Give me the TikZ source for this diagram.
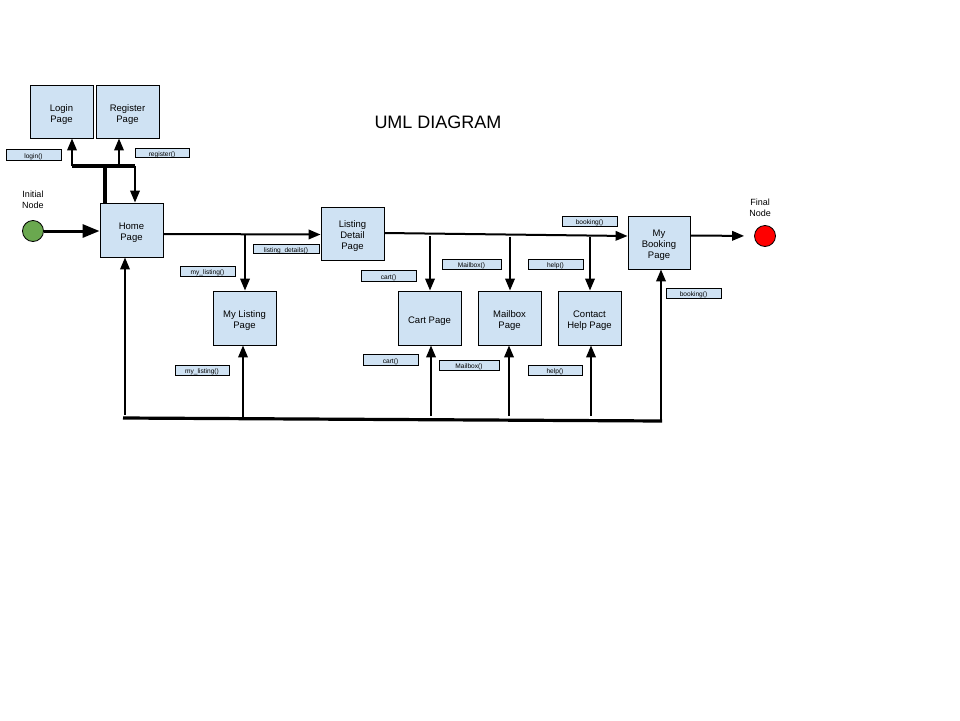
\documentclass[tikz,border=0pt]{standalone}
\usepackage{fontspec}
\setmainfont{Liberation Sans}
\usetikzlibrary{arrows.meta,calc}
\definecolor{boxblue}{HTML}{CFE2F3}
\definecolor{initgreen}{HTML}{6AA84F}
\definecolor{finalred}{HTML}{FF0000}
\tikzset{
  pagebox/.style={draw=black, line width=0.9pt, fill=boxblue, inner sep=0pt},
  boxtext/.style={align=center, inner sep=0pt, yshift=-3pt, font=\fontsize{9.5}{11}\selectfont},
  fnlabel/.style={draw=black, line width=0.8pt, fill=boxblue, inner sep=0pt,
    text height=7pt, text depth=0pt, font=\fontsize{6.6}{7}\selectfont},
  arr/.style={line width=2pt, -{Triangle[length=12pt,width=9.5pt]}},
  bigarr/.style={line width=3pt, -{Triangle[length=17pt,width=13pt]}},
  thickline/.style={line width=3.2pt},
  caption/.style={align=center, font=\fontsize{9}{11}\selectfont}
}
\begin{document}
\begin{tikzpicture}[x=1pt,y=-1pt]
\useasboundingbox[fill=white] (0,0) rectangle (960,720);

% title
\node (title) at (438,122) {\fontsize{18}{20}\selectfont UML DIAGRAM};

% page boxes
\node[pagebox, minimum width=63pt, minimum height=53pt, label={[boxtext]center:Login\\Page}] (login) at (61.5,111.5) {};
\node[pagebox, minimum width=63pt, minimum height=53pt, label={[boxtext]center:Register\\Page}] (register) at (127.5,111.5) {};
\node[pagebox, minimum width=63pt, minimum height=54pt, label={[boxtext]center:Home\\Page}] (home) at (131.5,230) {};
\node[pagebox, minimum width=63pt, minimum height=53pt, label={[boxtext]center:Listing\\Detail\\Page}] (listing) at (352.5,233.5) {};
\node[pagebox, minimum width=63pt, minimum height=54pt, label={[boxtext]center:My Listing\\Page}] (mylisting) at (244.5,318) {};
\node[pagebox, minimum width=63pt, minimum height=54pt, label={[boxtext]center:Cart Page}] (cart) at (429.5,318) {};
\node[pagebox, minimum width=63pt, minimum height=54pt, label={[boxtext]center:Mailbox\\Page}] (mailbox) at (509.5,318) {};
\node[pagebox, minimum width=63pt, minimum height=54pt, label={[boxtext]center:Contact\\Help Page}] (contact) at (589.5,318) {};
\node[pagebox, minimum width=62pt, minimum height=53pt, label={[boxtext]center:My\\Booking\\Page}] (booking) at (659,242.5) {};

% initial / final nodes
\node[draw=black, line width=0.8pt, fill=initgreen, circle, minimum size=21pt, inner sep=0pt] (init) at (33,231) {};
\node[caption] (initcap) at (33,200) {Initial\\Node};
\node[draw=black, line width=0.8pt, fill=finalred, circle, minimum size=21pt, inner sep=0pt] (final) at (765,236) {};
\node[caption] (finalcap) at (760,207.5) {Final\\Node};

% function labels
\node[fnlabel, minimum width=55pt, minimum height=11pt] (llogin) at (33.5,154.5) {login()};
\node[fnlabel, minimum width=54pt, minimum height=9pt] (lregister) at (162,152.5) {register()};
\node[fnlabel, minimum width=66pt, minimum height=9pt] (ldetails) at (286,248.5) {listing\_details()};
\node[fnlabel, minimum width=55pt, minimum height=10pt] (lmylist1) at (207.5,271) {my\_listing()};
\node[fnlabel, minimum width=55pt, minimum height=11pt] (lcart1) at (388.5,275.5) {cart()};
\node[fnlabel, minimum width=59pt, minimum height=10pt] (lmail1) at (471.5,264) {Mailbox()};
\node[fnlabel, minimum width=55pt, minimum height=10pt] (lhelp1) at (555.5,264) {help()};
\node[fnlabel, minimum width=55pt, minimum height=10pt] (lbook1) at (589.5,221) {booking()};
\node[fnlabel, minimum width=55pt, minimum height=10pt] (lbook2) at (693.5,293) {booking()};
\node[fnlabel, minimum width=55pt, minimum height=11pt] (lcart2) at (390.5,359.5) {cart()};
\node[fnlabel, minimum width=60pt, minimum height=10pt] (lmail2) at (469,365) {Mailbox()};
\node[fnlabel, minimum width=54pt, minimum height=10pt] (lhelp2) at (555,370) {help()};
\node[fnlabel, minimum width=54pt, minimum height=10pt] (lmylist2) at (202,370) {my\_listing()};

% initial -> home
\draw[bigarr] (init) -- (home.west |- init);

% top structure: home <-> login / register
\coordinate (tl) at (72,166);
\coordinate (tj) at (105,166);
\coordinate (treg) at (119,166);
\coordinate (tr) at (135,166);
\draw[thickline] (tl) -- (tr);
\draw[thickline] (tj |- home.north) -- (tj);
\draw[arr] (tl) -- (tl |- login.south);
\draw[arr] (treg) -- (treg |- register.south);
\draw[arr] (tr) -- (tr |- home.north);

% home -> listing detail, branch to my listing
\draw[arr] ($(home.east)+(0,4)$) -- ($(listing.west)+(0,1)$);
\coordinate (b1) at (245,234);
\draw[arr] (b1) -- (b1 |- mylisting.north);

% listing detail -> my booking, branches
\draw[arr] ($(listing.east)+(0,-0.5)$) -- ($(booking.west)+(0,-6.5)$);
\coordinate (c1) at (430,236);
\coordinate (c2) at (510,236.5);
\coordinate (c3) at (590,237);
\draw[arr] (c1) -- (c1 |- cart.north);
\draw[arr] (c2) -- (c2 |- mailbox.north);
\draw[arr] (c3) -- (c3 |- contact.north);

% my booking -> final
\draw[arr, shorten >=10pt] ($(booking.east)+(0,-7)$) -- (final.west);

% bottom return structure
\coordinate (bl) at (123,418);
\coordinate (br) at (662,421);
\draw[thickline] (bl) -- (br);
\coordinate (u1) at (125,415);
\coordinate (u2) at (243,418);
\coordinate (u3) at (431,416);
\coordinate (u4) at (509,416);
\coordinate (u5) at (591,416);
\coordinate (u6) at (661,422);
\draw[arr] (u1) -- (u1 |- home.south);
\draw[arr] (u2) -- (u2 |- mylisting.south);
\draw[arr] (u3) -- (u3 |- cart.south);
\draw[arr] (u4) -- (u4 |- mailbox.south);
\draw[arr] (u5) -- (u5 |- contact.south);
\draw[arr] (u6) -- (u6 |- booking.south);
\end{tikzpicture}
\end{document}
